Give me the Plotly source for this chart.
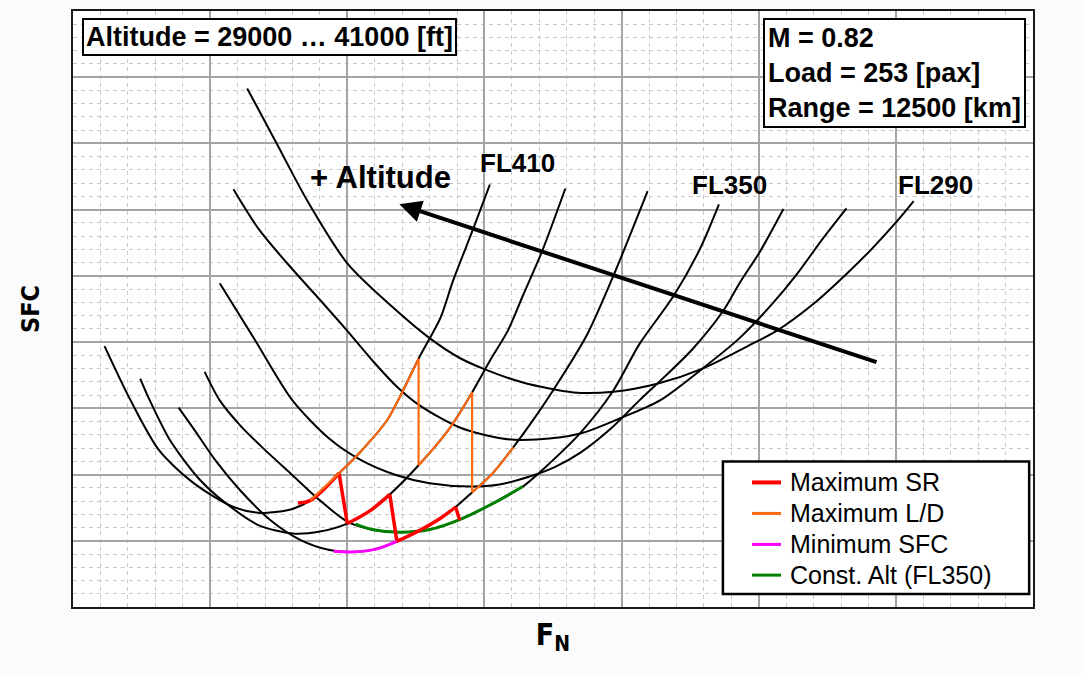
import plotly.graph_objects as go

# ---- SFC curves (one per flight level) ----
FL410_x = [0.23, 0.42, 0.63, 0.88, 1.17, 1.38, 1.60, 1.73, 1.94, 2.09, 2.29, 2.38, 2.52, 2.68, 2.77, 2.92, 3.04]
FL410_y = [3.94, 3.12, 2.36, 1.87, 1.51, 1.42, 1.48, 1.61, 2.02, 2.33, 2.82, 3.16, 3.75, 4.37, 4.92, 5.72, 6.38]

FL390_x = [0.49, 0.56, 0.71, 0.93, 1.15, 1.36, 1.60, 1.80, 2.00, 2.17, 2.31, 2.52, 2.75, 2.91, 3.04, 3.17, 3.28, 3.42, 3.59]
FL390_y = [3.45, 3.12, 2.51, 1.91, 1.51, 1.23, 1.11, 1.14, 1.26, 1.46, 1.70, 2.14, 2.71, 3.24, 3.72, 4.17, 4.70, 5.37, 6.32]

FL370_x = [0.77, 0.89, 1.04, 1.22, 1.44, 1.66, 1.87, 2.03, 2.20, 2.36, 2.53, 2.68, 2.79, 2.91, 3.06, 3.21, 3.33, 3.50, 3.75, 3.94, 4.19]
FL370_y = [3.01, 2.66, 2.21, 1.76, 1.31, 1.01, 0.86, 0.83, 0.87, 0.99, 1.16, 1.34, 1.51, 1.73, 2.02, 2.41, 2.75, 3.27, 4.12, 5.00, 6.28]

FL350_x = [0.96, 1.07, 1.22, 1.38, 1.60, 1.80, 2.00, 2.18, 2.38, 2.60, 2.82, 3.04, 3.28, 3.48, 3.70, 3.94, 4.13, 4.38, 4.57, 4.71]
FL350_y = [3.55, 3.12, 2.74, 2.41, 1.99, 1.61, 1.29, 1.17, 1.13, 1.17, 1.32, 1.54, 1.82, 2.18, 2.63, 3.27, 3.97, 4.70, 5.40, 6.08]

FL330_x = [1.07, 1.33, 1.60, 1.87, 2.09, 2.36, 2.60, 2.90, 3.11, 3.33, 3.52, 3.70, 3.92, 4.13, 4.32, 4.52, 4.74, 4.86, 5.01, 5.18]
FL330_y = [4.89, 4.02, 3.12, 2.54, 2.23, 1.99, 1.87, 1.82, 1.85, 1.97, 2.12, 2.33, 2.69, 3.12, 3.49, 3.90, 4.47, 4.89, 5.37, 6.01]

FL310_x = [1.17, 1.36, 1.60, 1.80, 2.00, 2.18, 2.36, 2.53, 2.82, 3.14, 3.38, 3.70, 3.99, 4.28, 4.59, 4.86, 5.10, 5.28, 5.47, 5.64]
FL310_y = [6.31, 5.69, 5.10, 4.64, 4.17, 3.73, 3.33, 3.04, 2.71, 2.54, 2.53, 2.62, 2.85, 3.12, 3.60, 4.06, 4.58, 5.03, 5.57, 6.02]

FL290_x = [1.27, 1.49, 1.71, 2.00, 2.33, 2.60, 2.82, 2.99, 3.28, 3.65, 3.94, 4.26, 4.59, 4.92, 5.13, 5.40, 5.64, 5.83, 6.01, 6.13]
FL290_y = [7.83, 6.98, 6.13, 5.19, 4.53, 4.06, 3.76, 3.60, 3.39, 3.24, 3.25, 3.37, 3.60, 3.94, 4.17, 4.58, 5.03, 5.42, 5.83, 6.13]

# ---- schedules ----
maxSR_x = [1.64, 1.73, 1.94, None, 1.94, 2.00, None, 2.00, 2.17, 2.31, None, 2.31, 2.36, None, 2.36, 2.53, 2.68, 2.79, None, 2.79, 2.82]
maxSR_y = [1.57, 1.61, 2.02, None, 2.02, 1.26, None, 1.26, 1.46, 1.70, None, 1.70, 1.01, None, 0.99, 1.16, 1.34, 1.51, None, 1.51, 1.31]

maxLD_x = [1.73, 1.94, 2.09, 2.29, 2.38, 2.52, None, 2.52, 2.52, None, 2.52, 2.75, 2.91, None, 2.91, 2.91, None, 2.91, 3.06, 3.21]
maxLD_y = [1.61, 2.02, 2.33, 2.82, 3.16, 3.75, None, 3.75, 2.14, None, 2.14, 2.71, 3.24, None, 3.24, 1.73, None, 1.73, 2.02, 2.41]

minSFC_x = [1.90, 2.03, 2.20, 2.36, 2.53]
minSFC_y = [0.84, 0.83, 0.87, 0.99, 1.16]

constAlt_x = [2.06, 2.18, 2.38, 2.60, 2.82, 3.04, 3.28]
constAlt_y = [1.25, 1.17, 1.13, 1.17, 1.32, 1.54, 1.82]

legend_names = ["Maximum SR", "Maximum L/D", "Minimum SFC", "Const. Alt (FL350)"]
legend_colors = ["#ff0000", "#ff6a0e", "#ff00ff", "#008000"]
legend_widths = [4, 3, 3, 3]

curves = [(FL410_x, FL410_y), (FL390_x, FL390_y), (FL370_x, FL370_y), (FL350_x, FL350_y),
          (FL330_x, FL330_y), (FL310_x, FL310_y), (FL290_x, FL290_y)]

FONT = "Arial, Liberation Sans, sans-serif"
NARROW = "Liberation Sans Narrow, Arial Narrow, DejaVu Sans Condensed, Liberation Sans, sans-serif"

fig = go.Figure()
for cx, cy in curves:
    fig.add_trace(go.Scatter(x=cx, y=cy, mode="lines", line=dict(color="black", width=2, shape="spline", smoothing=0.8),
                             showlegend=False, hoverinfo="skip"))

fig.add_trace(go.Scatter(x=minSFC_x, y=minSFC_y, mode="lines", name=legend_names[2], showlegend=False,
                         line=dict(color=legend_colors[2], width=3, shape="spline")))
fig.add_trace(go.Scatter(x=constAlt_x, y=constAlt_y, mode="lines", name=legend_names[3], showlegend=False,
                         line=dict(color=legend_colors[3], width=3, shape="spline")))
fig.add_trace(go.Scatter(x=maxSR_x, y=maxSR_y, mode="lines", name=legend_names[0], showlegend=False, connectgaps=False,
                         line=dict(color=legend_colors[0], width=3.5, shape="spline")))
fig.add_trace(go.Scatter(x=maxLD_x, y=maxLD_y, mode="lines", name=legend_names[1], showlegend=False, connectgaps=False,
                         line=dict(color=legend_colors[1], width=2.2, shape="spline")))

axis_common = dict(showticklabels=False, ticks="", zeroline=False, showgrid=True,
                   gridcolor="#a4a4a4", gridwidth=1.5, showline=True, mirror=True,
                   linecolor="#1a1a1a", linewidth=2, dtick=1,
                   minor=dict(dtick=0.2, showgrid=True, gridcolor="#c8c8c8", gridwidth=1, griddash="4px,4px"))

fig.update_layout(
    width=1083, height=675,
    margin=dict(l=73, r=50, t=9, b=68),
    paper_bgcolor="#fbfbfb", plot_bgcolor="white",
    xaxis=dict(range=[0, 7], title=dict(text="<b>F<sub>N</sub></b>", font=dict(family=NARROW, size=30, color="black"), standoff=16), **axis_common),
    yaxis=dict(range=[0, 9], title=dict(text="<b>SFC</b>", font=dict(family=NARROW, size=25, color="black"), standoff=24), **axis_common),
    showlegend=False,
)

# legend (frame, line samples and labels)
fig.add_shape(type="rect", xref="paper", yref="paper", x0=0.677, x1=0.996, y0=0.022, y1=0.244,
              line=dict(color="black", width=2.5), fillcolor="white", layer="above")
legend_rows = [0.209, 0.157, 0.105, 0.0535]
for name, col, w, ry in zip(legend_names, legend_colors, legend_widths, legend_rows):
    fig.add_shape(type="line", xref="paper", yref="paper", x0=0.7073, x1=0.7375, y0=ry, y1=ry,
                  line=dict(color=col, width=w), layer="above")
    fig.add_annotation(xref="paper", yref="paper", x=0.7445, y=ry, xanchor="left", yanchor="middle",
                       text=name, showarrow=False, font=dict(family=FONT, size=25, color="black"))

# text boxes
fig.add_annotation(xref="paper", yref="paper", x=0.009, y=0.988, xanchor="left", yanchor="top",
                   text="<b>Altitude = 29000 … 41000 [ft]</b>", showarrow=False,
                   font=dict(family=FONT, size=27, color="black"), bgcolor="white",
                   bordercolor="black", borderwidth=2, borderpad=2)
fig.add_annotation(xref="paper", yref="paper", x=0.993, y=0.988, xanchor="right", yanchor="top", align="left",
                   text="<b>M = 0.82</b><br><b>Load = 253 [pax]</b><br><b>Range = 12500 [km]</b>", showarrow=False,
                   font=dict(family=FONT, size=27, color="black"), bgcolor="white",
                   bordercolor="black", borderwidth=2, borderpad=3)

# altitude arrow
fig.add_annotation(x=2.38, y=6.08, ax=5.87, ay=3.69, xref="x", yref="y", axref="x", ayref="y",
                   text="", showarrow=True, arrowhead=2, arrowsize=1.1, arrowwidth=4, arrowcolor="black")
fig.add_annotation(x=2.24, y=6.49, text="<b>+ Altitude</b>", showarrow=False,
                   font=dict(family=FONT, size=31, color="black"))

# flight level labels
for lx, ly, lt in [(3.24, 6.70, "FL410"), (4.79, 6.37, "FL350"), (6.29, 6.37, "FL290")]:
    fig.add_annotation(x=lx, y=ly, text="<b>" + lt + "</b>", showarrow=False,
                       font=dict(family=FONT, size=26, color="black"))

fig.write_html("out.html")
